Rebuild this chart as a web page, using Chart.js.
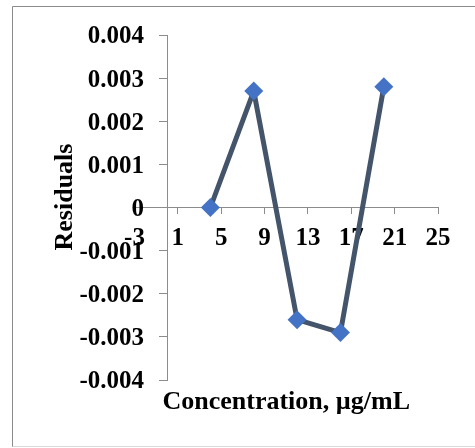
<!DOCTYPE html>
<html>
<head>
<meta charset="utf-8">
<script src="https://cdn.jsdelivr.net/npm/chart.js@4/dist/chart.umd.min.js"></script>
<style>
  html, body { margin: 0; padding: 0; background: #ffffff; }
  #wrap { width: 475px; height: 448px; }
</style>
</head>
<body>
<div id="wrap"><canvas id="c" width="475" height="448"></canvas></div>
<script>
// ---- data ----
const concentrations = [4, 8, 12, 16, 20];
const residuals = [0, 0.0027, -0.0026, -0.0029, 0.0028];
const xTickValues = [-3, 1, 5, 9, 13, 17, 21, 25];
const yTickValues = [-0.004, -0.003, -0.002, -0.001, 0, 0.001, 0.002, 0.003, 0.004];
const xTitle = 'Concentration, µg/mL';
const yTitle = 'Residuals';

const points = concentrations.map((x, i) => ({ x: x, y: residuals[i] }));

const FONT = "'Liberation Serif', 'Times New Roman', serif";
const AXIS_GRAY = '#8c8c8c';
const yFmt = (v) => (v === 0 ? '0' : v.toFixed(3));

const framePlugin = {
  id: 'frame',
  beforeDraw(chart) {
    const ctx = chart.ctx;
    ctx.save();
    ctx.fillStyle = '#ffffff';
    ctx.fillRect(0, 0, chart.width, chart.height);
    ctx.lineWidth = 1;
    ctx.strokeStyle = '#8c8c8c';
    ctx.beginPath();
    ctx.moveTo(12.5, 447);
    ctx.lineTo(12.5, 6.5);
    ctx.lineTo(475, 6.5);
    ctx.stroke();
    ctx.strokeStyle = '#d9d9d9';
    ctx.beginPath();
    ctx.moveTo(12.5, 446.5);
    ctx.lineTo(475, 446.5);
    ctx.stroke();
    ctx.restore();
  },
  afterDraw(chart) {
    const ctx = chart.ctx;
    const xs = chart.scales.x;
    ctx.save();
    ctx.fillStyle = '#000000';
    ctx.font = "bold 26px " + FONT;
    ctx.textAlign = 'center';
    ctx.textBaseline = 'alphabetic';
    ctx.fillText(xTitle, (xs.left + xs.right) / 2, 409);
    ctx.translate(72, 197);
    ctx.rotate(-Math.PI / 2);
    ctx.fillText(yTitle, 0, 0);
    ctx.restore();
  }
};

const yRange = {
  type: 'linear',
  min: yTickValues[0],
  max: yTickValues[yTickValues.length - 1],
  afterBuildTicks: (s) => { s.ticks = yTickValues.map(v => ({ value: v })); },
  afterFit: (s) => { s.width = 0; }
};

new Chart(document.getElementById('c'), {
  type: 'scatter',
  data: {
    datasets: [{
      data: points,
      showLine: true,
      borderColor: '#44546A',
      borderWidth: 5,
      borderJoinStyle: 'round',
      borderCapStyle: 'round',
      tension: 0,
      pointStyle: 'rectRot',
      pointRadius: 9.5,
      pointHoverRadius: 9.5,
      pointBackgroundColor: '#4472C4',
      pointBorderColor: '#4472C4',
      pointBorderWidth: 0,
      xAxisID: 'x',
      yAxisID: 'y'
    }]
  },
  options: {
    responsive: false,
    animation: false,
    devicePixelRatio: 1,
    layout: { padding: { left: 134.5, right: 37, top: 35, bottom: 68 } },
    plugins: { legend: { display: false }, tooltip: { enabled: false } },
    scales: {
      x: {
        type: 'linear',
        position: { y: 0 },
        min: xTickValues[0],
        max: xTickValues[xTickValues.length - 1],
        afterBuildTicks: (s) => { s.ticks = xTickValues.map(v => ({ value: v })); },
        afterFit: (s) => { s.height = 0; },
        grid: { display: true, drawOnChartArea: false, drawTicks: true, tickLength: 6, color: AXIS_GRAY },
        border: { display: true, color: AXIS_GRAY, width: 1 },
        ticks: {
          color: '#000000',
          font: { family: FONT, size: 25, weight: 'bold' },
          padding: 10,
          maxRotation: 0,
          autoSkip: false,
          callback: (v) => String(v)
        }
      },
      y: Object.assign({}, yRange, {
        position: { x: 0 },
        grid: { display: true, drawOnChartArea: false, drawTicks: true, tickLength: 8, color: AXIS_GRAY },
        border: { display: true, color: AXIS_GRAY, width: 1 },
        ticks: { display: false }
      }),
      yLabels: Object.assign({}, yRange, {
        axis: 'y',
        position: { x: -2.12 },
        grid: { display: false, drawTicks: false },
        border: { display: false },
        ticks: {
          color: '#000000',
          font: { family: FONT, size: 25, weight: 'bold' },
          padding: 0,
          labelOffset: 2,
          autoSkip: false,
          callback: yFmt
        }
      })
    }
  },
  plugins: [framePlugin]
});
</script>
</body>
</html>
